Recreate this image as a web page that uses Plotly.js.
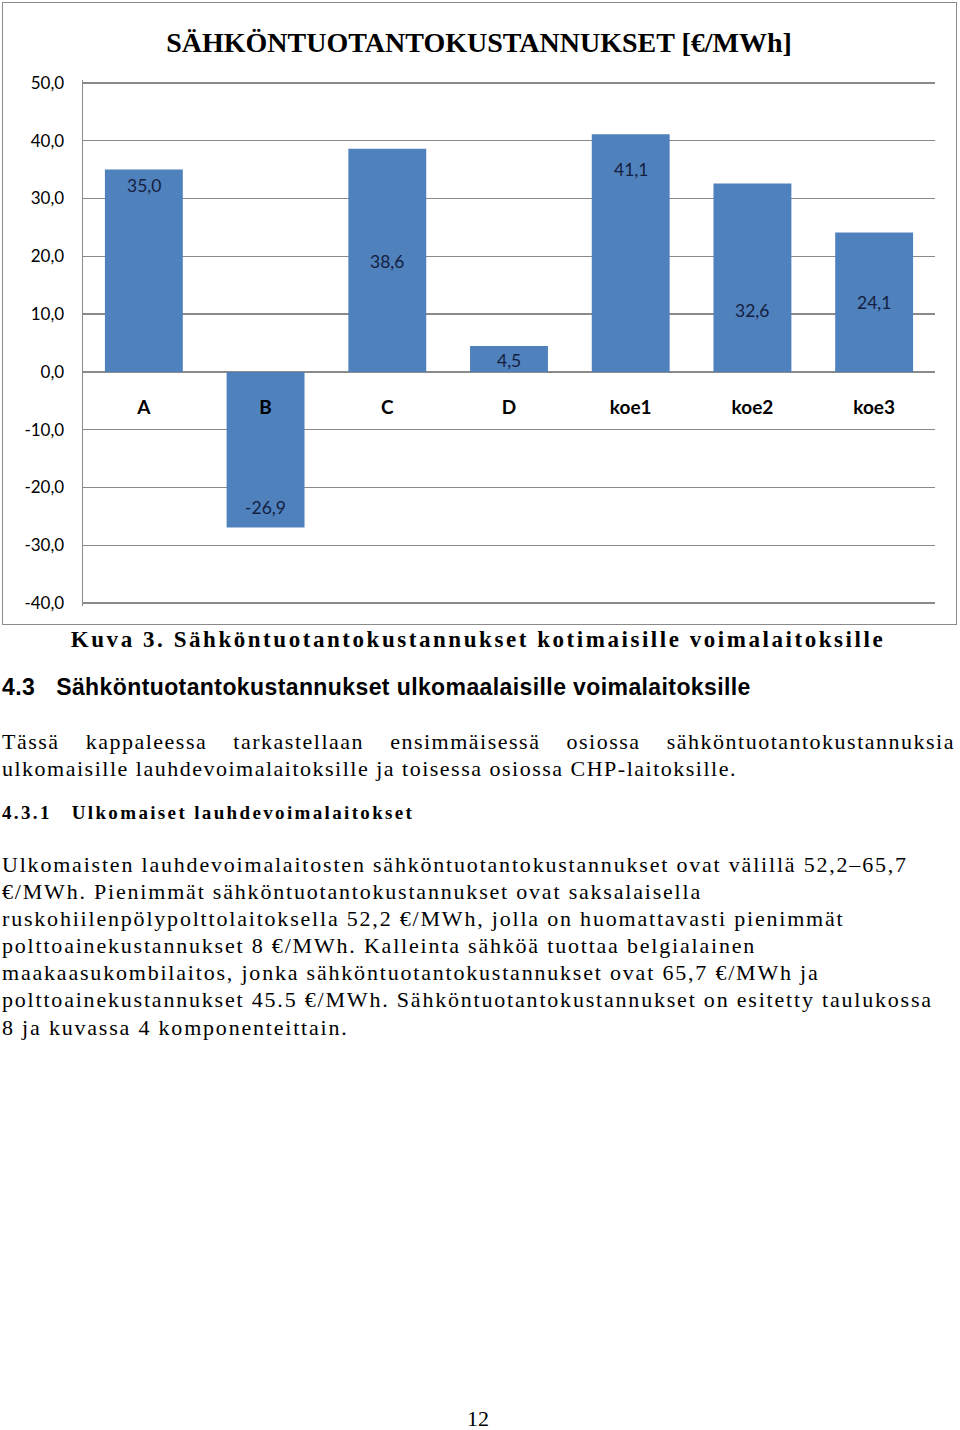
<!DOCTYPE html>
<html>
<head>
<meta charset="utf-8">
<script src="https://cdn.plot.ly/plotly-3.0.1.min.js"></script>
<style>
  html, body { margin:0; padding:0; background:#fff; }
  body { width:960px; height:1430px; position:relative; overflow:hidden; }
  #chart { position:absolute; left:0; top:0; width:960px; height:630px; }
  #frame { position:absolute; left:2px; top:2px; width:953px; height:621px; border:1.5px solid #8a8a8a; pointer-events:none; }
  .t { position:absolute; white-space:nowrap; color:#000; }
  .serif { font-family:"Liberation Serif","Times New Roman",serif; }
</style>
</head>
<body>
<div id="chart"></div>
<div id="frame"></div>

<div class="t serif" style="left:0;width:956px;top:626px;line-height:28px;font-size:23px;font-weight:bold;letter-spacing:2.55px;text-align:center;">Kuva 3. Sähköntuotantokustannukset kotimaisille voimalaitoksille</div>

<div class="t" style="left:2px;top:673px;line-height:28px;font-size:23px;font-weight:bold;letter-spacing:0.4px;font-family:'Liberation Sans',Arial,sans-serif;">4.3<span style="display:inline-block;width:21px"></span>Sähköntuotantokustannukset ulkomaalaisille voimalaitoksille</div>

<div class="t serif" style="left:2px;width:953px;top:728px;line-height:27px;font-size:22px;letter-spacing:1.5px;text-align:justify;text-align-last:justify;">Tässä kappaleessa tarkastellaan ensimmäisessä osiossa sähköntuotantokustannuksia</div>
<div class="t serif" style="left:2px;top:755px;line-height:27px;font-size:22px;letter-spacing:1.5px;">ulkomaisille lauhdevoimalaitoksille ja toisessa osiossa CHP-laitoksille.</div>

<div class="t serif" style="left:2px;top:800px;line-height:26px;font-size:19px;font-weight:bold;letter-spacing:2.35px;">4.3.1<span style="display:inline-block;width:20px"></span>Ulkomaiset lauhdevoimalaitokset</div>

<div class="t serif" style="left:2px;top:851px;line-height:27.1px;font-size:22px;letter-spacing:1.8px;">Ulkomaisten lauhdevoimalaitosten sähköntuotantokustannukset ovat välillä 52,2–65,7<br>€/MWh. Pienimmät sähköntuotantokustannukset ovat saksalaisella<br>ruskohiilenpölypolttolaitoksella 52,2 €/MWh, jolla on huomattavasti pienimmät<br>polttoainekustannukset 8 €/MWh. Kalleinta sähköä tuottaa belgialainen<br>maakaasukombilaitos, jonka sähköntuotantokustannukset ovat 65,7 €/MWh ja<br>polttoainekustannukset 45.5 €/MWh. Sähköntuotantokustannukset on esitetty taulukossa<br>8 ja kuvassa 4 komponenteittain.</div>

<div class="t serif" style="left:0;width:956px;top:1405px;line-height:28px;font-size:22px;text-align:center;">12</div>

<script>
// ---- data ----
const categories = ["A", "B", "C", "D", "koe1", "koe2", "koe3"];
const costs = [35.0, -26.9, 38.6, 4.5, 41.1, 32.6, 24.1];
const valueLabels = ["35,0", "-26,9", "38,6", "4,5", "41,1", "32,6", "24,1"];
const yTickVals = [-40, -30, -20, -10, 0, 10, 20, 30, 40, 50];
const yTickText = ["-40,0", "-30,0", "-20,0", "-10,0", "0,0", "10,0", "20,0", "30,0", "40,0", "50,0"];
const chartTitle = "SÄHKÖNTUOTANTOKUSTANNUKSET [€/MWh]";

// ---- styling (label offsets in px, as placed in the original) ----
const labelShift = [-16, 20, -113, -15, -35, -127, -70];
const gridColor = "#8a8a8a";
const yMin = -40.5, yMax = 50.5;

const trace = {
  type: "bar",
  x: categories,
  y: costs,
  marker: { color: "#4f81bd" },
  hoverinfo: "skip"
};

const annotations = categories.map((c, i) => ({
  x: c, y: costs[i], xref: "x", yref: "y",
  text: valueLabels[i], showarrow: false,
  yshift: labelShift[i], yanchor: "middle", xanchor: "center",
  font: { family: "Lato, 'Open Sans', sans-serif", size: 17.5, color: "#15203f" }
}));

const layout = {
  width: 960, height: 630,
  margin: { l: 83, r: 25, t: 80, b: 24 },
  paper_bgcolor: "rgba(0,0,0,0)",
  plot_bgcolor: "#ffffff",
  bargap: 0.36,
  showlegend: false,
  title: {
    text: chartTitle,
    xref: "container", x: 0.499, xanchor: "center",
    yref: "container", y: 1 - 42 / 630, yanchor: "middle",
    font: { family: "'Liberation Serif', 'Times New Roman', serif", size: 28, color: "#000", weight: "bold" }
  },
  xaxis: {
    type: "category",
    anchor: "free",
    position: (0 - yMin) / (yMax - yMin),
    showline: false, showgrid: false, zeroline: false,
    ticks: "",
    ticklabelstandoff: 22,
    tickfont: { family: "Lato, 'Open Sans', sans-serif", size: 19, color: "#000", weight: "bold" }
  },
  yaxis: {
    range: [yMin, yMax],
    tickvals: yTickVals,
    ticktext: yTickText,
    showgrid: true, gridcolor: gridColor, gridwidth: 1.4,
    zeroline: true, zerolinecolor: gridColor, zerolinewidth: 1.4,
    showline: true, linecolor: gridColor, linewidth: 1.4,
    ticks: "", ticklabelstandoff: 14,
    tickfont: { family: "Lato, 'Open Sans', sans-serif", size: 17, color: "#000" }
  },
  annotations: annotations
};

Plotly.newPlot("chart", [trace], layout, { displayModeBar: false, staticPlot: true });
</script>
</body>
</html>
